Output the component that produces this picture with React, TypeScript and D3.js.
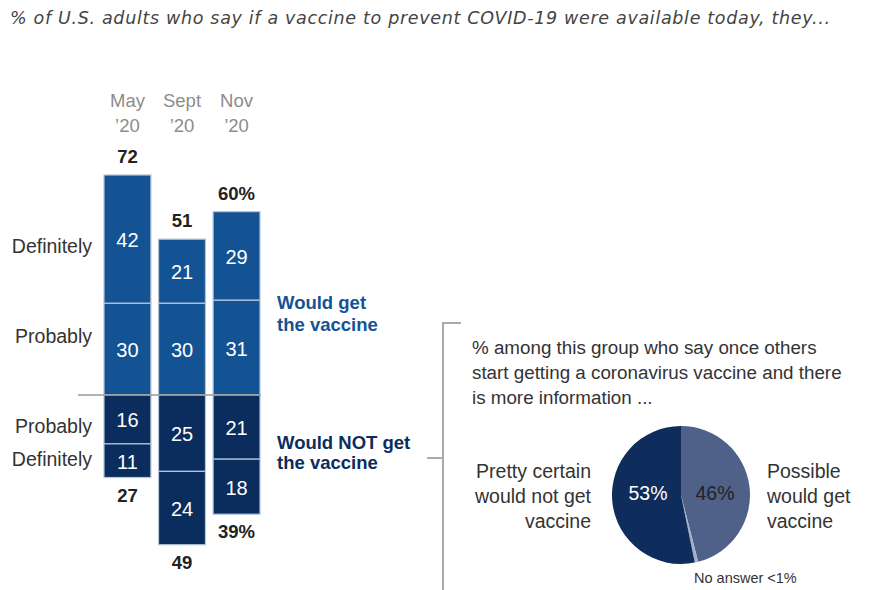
import React from "react";
import * as d3 from "d3";

const months = ["May", "Sept", "Nov"];
const years = ["’20", "’20", "’20"];
const definitelyGet = [42, 21, 29];
const probablyGet = [30, 30, 31];
const probablyNot = [16, 25, 21];
const definitelyNot = [11, 24, 18];
const totalGet = ["72", "51", "60%"];
const totalNot = ["27", "49", "39%"];
const getValues = [72, 51, 60];
const notValues = [27, 49, 39];

const pieLabels = ["Possible would get vaccine", "No answer", "Pretty certain would not get vaccine"];
const pieValues = [46, 0.8, 53.2];
const pieValueLabels = ["46%", "", "53%"];

const title = "% of U.S. adults who say if a vaccine to prevent COVID-19 were available today, they...";
const subText = [
  "% among this group who say once others",
  "start getting a coronavirus vaccine and there",
  "is more information ...",
];

const FONT = "'Liberation Sans', Arial, sans-serif";
const BLUE = "#135394";
const NAVY = "#0b2d5d";
const PIE_DARK = "#0e2d5c";
const PIE_LIGHT = "#4f6189";
const PIE_NA = "#a3b0c8";

export default function App() {
  const W = 882, H = 590;
  const x = d3.scaleBand<string>().domain(months).range([104, 260]).paddingInner(0.14).paddingOuter(0);
  const y = d3.scaleLinear().domain([0, 72]).range([395, 175]);
  const bw = x.bandwidth();

  const pieGen = d3.pie<number>().sort(null).value((d) => d);
  const arcs = pieGen(pieValues);
  const r = 69;
  const arcGen = d3.arc<d3.PieArcDatum<number>>().innerRadius(0).outerRadius(r);
  const pcx = 681, pcy = 495;
  const pieColors = [PIE_LIGHT, PIE_NA, PIE_DARK];

  const segs: { x0: number; v0: number; v1: number; val: number; color: string }[] = [];
  months.forEach((m, i) => {
    const x0 = x(m)!;
    segs.push({ x0, v0: probablyGet[i], v1: probablyGet[i] + definitelyGet[i], val: definitelyGet[i], color: BLUE });
    segs.push({ x0, v0: 0, v1: probablyGet[i], val: probablyGet[i], color: BLUE });
    segs.push({ x0, v0: -probablyNot[i], v1: 0, val: probablyNot[i], color: NAVY });
    segs.push({ x0, v0: -probablyNot[i] - definitelyNot[i], v1: -probablyNot[i], val: definitelyNot[i], color: NAVY });
  });

  return (
    <svg width={W} height={H} style={{ position: "absolute", left: 0, top: 0, background: "#fff" }} fontFamily={FONT}>
      <text x={10} y={24} fontSize={17.5} fontStyle="italic" fill="#444" fontFamily="'DejaVu Sans', sans-serif" textLength={820} lengthAdjust="spacing">{title}</text>

      {months.map((m, i) => (
        <g key={m}>
          <text x={x(m)! + bw / 2} y={107} fontSize={18.5} fill="#8c8c8c" textAnchor="middle">{m}</text>
          <text x={x(m)! + bw / 2} y={132} fontSize={18.5} fill="#8c8c8c" textAnchor="middle">{years[i]}</text>
          <text x={x(m)! + bw / 2} y={y(getValues[i]) - 12} fontSize={18.5} fontWeight="bold" fill="#222" textAnchor="middle">{totalGet[i]}</text>
          <text x={x(m)! + bw / 2} y={y(-notValues[i]) + 24} fontSize={18.5} fontWeight="bold" fill="#222" textAnchor="middle">{totalNot[i]}</text>
        </g>
      ))}

      {segs.map((s, k) => (
        <g key={k}>
          <rect x={s.x0} y={y(s.v1)} width={bw} height={y(s.v0) - y(s.v1)} fill={s.color} stroke="#b4c4da" strokeWidth={1.2} />
          <text x={s.x0 + bw / 2} y={(y(s.v0) + y(s.v1)) / 2 + 8} fontSize={20} fill="#fff" textAnchor="middle">{s.val}</text>
        </g>
      ))}

      <line x1={78} x2={261} y1={y(0)} y2={y(0)} stroke="#9a9a9a" strokeWidth={1.5} />

      <text x={92} y={253} fontSize={19.5} fill="#333" textAnchor="end">Definitely</text>
      <text x={92} y={343} fontSize={19.5} fill="#333" textAnchor="end">Probably</text>
      <text x={92} y={433} fontSize={19.5} fill="#333" textAnchor="end">Probably</text>
      <text x={92} y={466} fontSize={19.5} fill="#333" textAnchor="end">Definitely</text>

      <text x={277} y={309} fontSize={18.5} fontWeight="bold" fill={BLUE}>Would get</text>
      <text x={277} y={331} fontSize={18.5} fontWeight="bold" fill={BLUE}>the vaccine</text>
      <text x={277} y={449} fontSize={18.5} fontWeight="bold" fill={NAVY}>Would NOT get</text>
      <text x={277} y={469} fontSize={18.5} fontWeight="bold" fill={NAVY}>the vaccine</text>

      <path d="M461,323 H443 V590" fill="none" stroke="#aaa" strokeWidth={2} />
      <line x1={427} x2={443} y1={458} y2={458} stroke="#aaa" strokeWidth={2} />

      {subText.map((t, i) => (
        <text key={i} x={472} y={354 + i * 25} fontSize={18.8} fill="#333">{t}</text>
      ))}

      <g transform={`translate(${pcx},${pcy})`}>
        {arcs.map((a, i) => (
          <path key={i} d={arcGen(a)!} fill={pieColors[i]}>
            <title>{pieLabels[i]}</title>
          </path>
        ))}
        <text x={34} y={5} fontSize={19.5} fill="#222" textAnchor="middle">{pieValueLabels[0]}</text>
        <text x={-33} y={5} fontSize={19.5} fill="#fff" textAnchor="middle">{pieValueLabels[2]}</text>
      </g>

      {["Pretty certain", "would not get", "vaccine"].map((t, i) => (
        <text key={t} x={591} y={478 + i * 25} fontSize={19.5} fill="#333" textAnchor="end">{t}</text>
      ))}
      {["Possible", "would get", "vaccine"].map((t, i) => (
        <text key={t} x={767} y={478 + i * 25} fontSize={19.5} fill="#333">{t}</text>
      ))}
      <text x={694} y={583} fontSize={14.5} fill="#333">No answer &lt;1%</text>
    </svg>
  );
}
